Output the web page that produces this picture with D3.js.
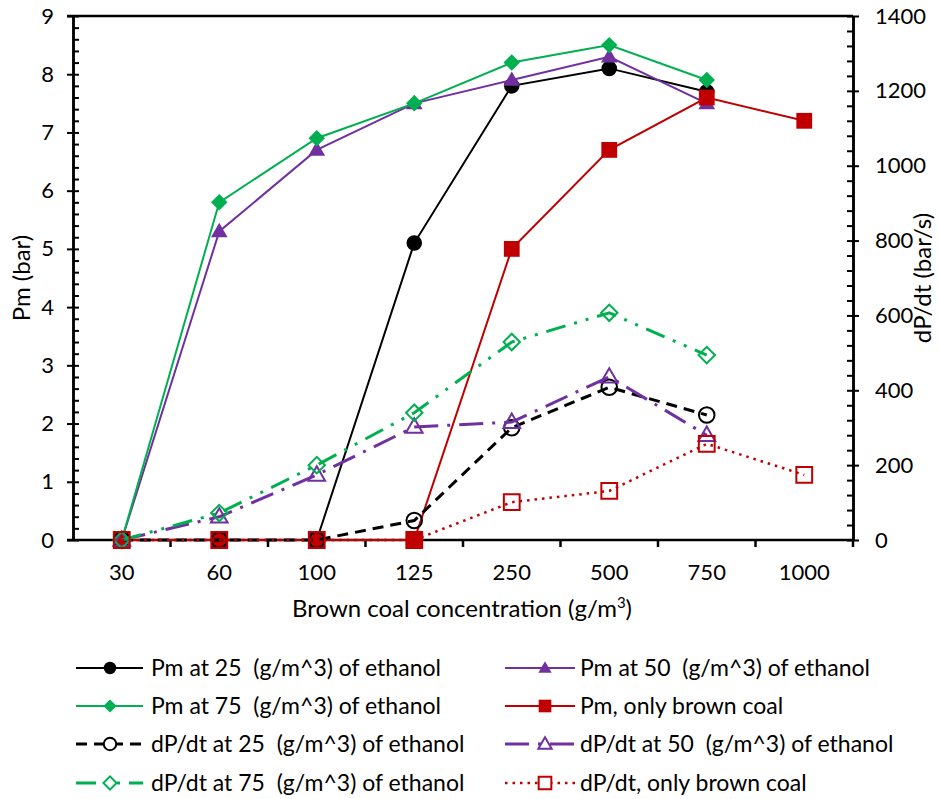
<!DOCTYPE html>
<html>
<head>
<meta charset="utf-8">
<script src="https://cdn.jsdelivr.net/npm/d3@7"></script>
<style>
  body { margin: 0; background: #fff; }
  text { font-family: Lato, "Noto Sans", sans-serif; fill: #000; white-space: pre; }
</style>
</head>
<body>
<div class="chart"></div>
<script>
// data
const categories = ["30", "60", "100", "125", "250", "500", "750", "1000"];
const pm25   = [0, 0, 0, 5.1, 7.8, 8.1, 7.7, null];
const pm50   = [0, 5.3, 6.7, 7.5, 7.9, 8.3, 7.5, null];
const pm75   = [0, 5.8, 6.9, 7.5, 8.2, 8.5, 7.9, null];
const pmCoal = [0, 0, 0, 0, 5.0, 6.7, 7.6, 7.2];
const dp25   = [0, 0, 0, 52, 300, 408, 334, null];
const dp50   = [0, 62, 174, 302, 315, 436, 280, null];
const dp75   = [0, 72, 200, 340, 529, 607, 494, null];
const dpCoal = [0, 0, 0, 0, 101, 131, 257, 174];
const leftTicks = [0, 1, 2, 3, 4, 5, 6, 7, 8, 9];
const rightTicks = [0, 200, 400, 600, 800, 1000, 1200, 1400];

const W = 938, H = 799;
const pLeft = 73, pRight = 853, pTop = 16, pBottom = 540;

const svg = d3.select('.chart').append('svg')
    .attr('width', W).attr('height', H);

const x = d3.scaleBand().domain(categories).range([pLeft, pRight]).padding(0);
const yL = d3.scaleLinear().domain([0, 9]).range([pBottom, pTop]);
const yR = d3.scaleLinear().domain([0, 1400]).range([pBottom, pTop]);

const series = [
  {name: 'Pm at 25  (g/m^3) of ethanol', vals: pm25, y: yL, color: '#000000', sym: 'circle', fill: true, dash: null, w: 2},
  {name: 'Pm at 50  (g/m^3) of ethanol', vals: pm50, y: yL, color: '#7030A0', sym: 'triangle', fill: true, dash: null, w: 2},
  {name: 'Pm at 75  (g/m^3) of ethanol', vals: pm75, y: yL, color: '#00B050', sym: 'diamond', fill: true, dash: null, w: 2},
  {name: 'Pm, only brown coal', vals: pmCoal, y: yL, color: '#C00000', sym: 'square', fill: true, dash: null, w: 2},
  {name: 'dP/dt at 25  (g/m^3) of ethanol', vals: dp25, y: yR, color: '#000000', sym: 'circle', fill: false, dash: '11,7', w: 3},
  {name: 'dP/dt at 50  (g/m^3) of ethanol', vals: dp50, y: yR, color: '#7030A0', sym: 'triangle', fill: false, dash: '24,9,3,9', w: 3},
  {name: 'dP/dt at 75  (g/m^3) of ethanol', vals: dp75, y: yR, color: '#00B050', sym: 'diamond', fill: false, dash: '20,9,3,9,3,9', w: 3},
  {name: 'dP/dt, only brown coal', vals: dpCoal, y: yR, color: '#C00000', sym: 'square', fill: false, dash: '2.5,5', w: 2.5}
];

function symPath(sym, k) {
  k = k || 1;
  if (sym === 'circle') return d3.symbol(d3.symbolCircle, 190 * k * k)();
  if (sym === 'triangle') return d3.symbol(d3.symbolTriangle, 120 * k * k)();
  if (sym === 'square') return d3.symbol(d3.symbolSquare, 250 * k * k)();
  return d3.symbol(d3.symbolSquare, 135 * k * k)();
}
function symTransform(sym, cx, cy) {
  let t = `translate(${cx},${cy})`;
  if (sym === 'diamond') t += ' rotate(45)';
  if (sym === 'triangle') t += ' translate(0,1)';
  return t;
}

// top border
svg.append('line')
    .attr('x1', pLeft - 6).attr('x2', pRight)
    .attr('y1', pTop).attr('y2', pTop)
    .attr('stroke', '#000').attr('stroke-width', 2.5);

// left axis: major ticks outside, minor ticks inside
const gL = svg.append('g').attr('transform', `translate(${pLeft},0)`);
gL.call(d3.axisLeft(yL).tickValues(leftTicks).tickSize(6).tickPadding(13).tickSizeOuter(0));
gL.append('g').call(d3.axisRight(yL).tickValues(d3.range(0, 9.01, 0.2)).tickSize(6).tickFormat('').tickSizeOuter(0));

// right axis
const gR = svg.append('g').attr('transform', `translate(${pRight},0)`);
gR.call(d3.axisRight(yR).tickValues(rightTicks).tickSize(6).tickPadding(16).tickFormat(d3.format('d')).tickSizeOuter(0));
gR.append('g').call(d3.axisLeft(yR).tickValues(d3.range(0, 1401, 40)).tickSize(6).tickFormat('').tickSizeOuter(0));

// bottom axis: labels centred on categories, ticks at category edges
const gB = svg.append('g').attr('transform', `translate(0,${pBottom})`);
gB.call(d3.axisBottom(x).tickSize(0).tickPadding(24).tickSizeOuter(0));
gB.select('.domain').remove();
gB.append('line').attr('x1', pLeft - 6).attr('x2', pRight).attr('stroke', '#000').attr('stroke-width', 2.5);
gB.selectAll('.edge')
    .data(categories.slice(1).concat(['end']))
    .enter().append('line')
    .attr('x1', d => d === 'end' ? pRight : x(d))
    .attr('x2', d => d === 'end' ? pRight : x(d))
    .attr('y1', 0).attr('y2', 7)
    .attr('stroke', '#000').attr('stroke-width', 2.5);

svg.selectAll('.domain').attr('stroke-width', 2.5);
svg.selectAll('.tick line').attr('stroke-width', 2);
svg.selectAll('.tick text').style('font-size', '22px');

// series
series.forEach(s => {
  const pts = s.vals.map((v, i) => ({c: categories[i], v: v})).filter(p => p.v !== null);
  const line = d3.line().x(p => x(p.c) + x.bandwidth() / 2).y(p => s.y(p.v));
  svg.append('path')
      .datum(pts)
      .attr('d', line)
      .attr('fill', 'none')
      .attr('stroke', s.color)
      .attr('stroke-width', s.w)
      .attr('stroke-dasharray', s.dash);
  svg.append('g').selectAll('path')
      .data(pts)
      .enter().append('path')
      .attr('d', symPath(s.sym))
      .attr('transform', p => symTransform(s.sym, x(p.c) + x.bandwidth() / 2, s.y(p.v)))
      .attr('fill', s.fill ? s.color : 'none')
      .attr('stroke', s.color)
      .attr('stroke-width', s.fill ? 0 : 2);
});

// axis titles
svg.append('text')
    .attr('transform', 'translate(30,278) rotate(-90)')
    .attr('text-anchor', 'middle')
    .style('font-size', '24px')
    .text('Pm (bar)');
svg.append('text')
    .attr('transform', 'translate(931,278) rotate(-90)')
    .attr('text-anchor', 'middle')
    .style('font-size', '24px')
    .text('dP/dt (bar/s)');
const xt = svg.append('text')
    .attr('x', 462).attr('y', 617)
    .attr('text-anchor', 'middle')
    .style('font-size', '24px');
xt.append('tspan').text('Brown coal concentration (g/m');
xt.append('tspan').attr('baseline-shift', 'super').style('font-size', '15px').text('3');
xt.append('tspan').text(')');

// legend
const legendPos = [
  [0, 0], [1, 0], [0, 1], [1, 1], [0, 2], [1, 2], [0, 3], [1, 3]
];
const colX = [[76, 143, 110, 151], [505, 575, 545, 580]];
const rowY = [668, 706, 744, 783];
const legend = svg.selectAll('.legend')
    .data(series)
    .enter().append('g')
    .attr('class', 'legend');
legend.each(function(s, i) {
  const g = d3.select(this);
  const c = colX[legendPos[i][0]];
  const yy = rowY[legendPos[i][1]];
  g.append('line')
      .attr('x1', c[0]).attr('x2', c[1])
      .attr('y1', yy).attr('y2', yy)
      .attr('stroke', s.color)
      .attr('stroke-width', s.w)
      .attr('stroke-dasharray', s.dash);
  g.append('path')
      .attr('d', symPath(s.sym, 0.8))
      .attr('transform', symTransform(s.sym, c[2], yy))
      .attr('fill', s.fill ? s.color : '#fff')
      .attr('stroke', s.color)
      .attr('stroke-width', s.fill ? 0 : 2);
  g.append('text')
      .attr('x', c[3]).attr('y', yy)
      .attr('dy', '0.35em')
      .style('font-size', '23px')
      .text(s.name);
});
</script>
</body>
</html>
